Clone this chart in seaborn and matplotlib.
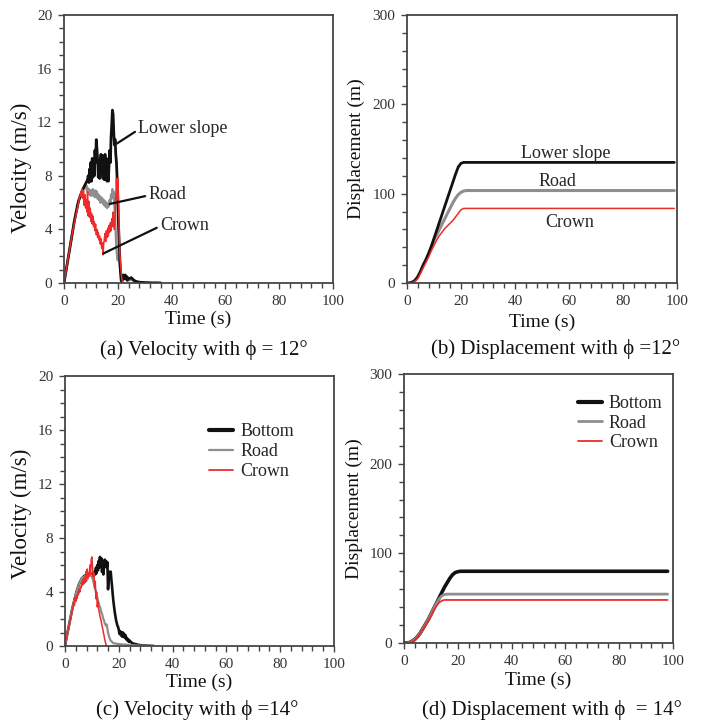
import numpy as np
import matplotlib
matplotlib.use("Agg")
import matplotlib.pyplot as plt
from matplotlib.ticker import MultipleLocator
import seaborn as sns

nan = np.nan

# ---------------- data ----------------
# Velocity, phi = 12 deg (time grid: 0..24 s every 0.25 s, then 25..36 s every 1 s)
t_a = np.r_[np.arange(0, 24.01, 0.25), np.arange(25, 37, 1)]
vel_a_lower = [0.0, 0.3, 0.6, 0.9, 1.2, 1.5, 1.8, 2.1, 2.4, 2.7,
               3.0, 3.3, 3.6, 3.9, 4.2, 4.5, 4.8, 5.0, 5.3, 5.5,
               5.8, 6.0, 6.2, 6.3, 6.5, 6.6, 6.7, 6.9, 7.0, 7.1,
               7.2, 7.3, 7.4, 7.5, 7.6, 7.7, 8.0, 7.5, 8.5, 7.6,
               9.0, 7.6, 9.3, 7.9, 9.2, 8.0, 9.9, 9.0, 10.7, 10.0,
               9.2, 7.9, 9.1, 7.8, 8.9, 9.6, 8.3, 9.5, 7.8, 9.0,
               7.7, 9.6, 8.2, 9.3, 7.6, 8.8, 7.6, 8.9, 9.9, 9.0,
               10.9, 11.8, 12.9, 12.6, 11.2, 10.3, 10.7, 9.6, 9.0, 7.8,
               6.0, 4.4, 3.0, 1.8, 0.8, 0.2, 0.1, 0.3, 0.6, 0.3,
               0.5, 0.6, 0.3, 0.5, 0.2, 0.4, 0.3,
               0.4, 0.2, 0.1, 0.05, 0.05, 0.02, 0.02, 0.0, 0.0, 0.0, 0.0, 0.0]
vel_a_road = [0.0, 0.3, 0.6, 0.9, 1.2, 1.5, 1.8, 2.1, 2.4, 2.7,
              3.0, 3.3, 3.6, 3.9, 4.2, 4.5, 4.7, 5.0, 5.2, 5.5,
              5.7, 5.9, 6.1, 6.3, 6.4, 6.5, 6.6, 6.8, 6.9, 7.0,
              7.1, 7.2, 7.1, 7.3, 6.9, 7.1, 6.7, 7.0, 6.6, 6.9,
              6.5, 6.9, 6.6, 7.0, 6.5, 6.8, 6.4, 6.9, 6.6, 6.8,
              6.3, 6.6, 6.2, 6.5, 6.0, 6.4, 6.1, 6.3, 5.9, 6.2,
              5.8, 6.1, 5.7, 6.0, 5.6, 5.9, 5.7, 5.8, 6.2, 5.9,
              6.6, 6.3, 7.0, 6.5, 6.8, 5.8, 4.8, 3.6, 2.6, 2.0,
              1.7, 2.1, 1.6, 1.2, 0.9, 0.7, 0.5, 0.6, 0.4, 0.5,
              0.3, 0.4, 0.3, 0.4, 0.2, 0.3, 0.2,
              0.25, 0.15, 0.1, 0.08, 0.05, 0.06, 0.04, 0.05, 0.03, 0.04, 0.02, 0.0]
vel_a_crown = [0.0, 0.3, 0.6, 0.9, 1.2, 1.5, 1.8, 2.1, 2.4, 2.7,
               3.0, 3.3, 3.6, 3.9, 4.1, 4.4, 4.6, 4.9, 5.1, 5.4,
               5.6, 5.9, 6.1, 6.4, 6.5, 6.8, 6.4, 7.0, 6.3, 6.9,
               5.8, 6.6, 5.6, 6.2, 5.3, 6.8, 5.0, 6.1, 4.9, 5.6,
               4.6, 5.2, 4.4, 5.0, 4.2, 4.6, 3.9, 4.4, 3.6, 4.0,
               3.4, 3.8, 3.2, 3.5, 2.9, 3.3, 2.6, 3.0, 2.1, 2.9,
               3.3, 3.7, 3.1, 3.9, 3.4, 4.1, 3.5, 4.3, 3.8, 4.5,
               3.9, 4.8, 4.2, 5.3, 4.6, 4.0, 5.0, 6.5, 7.8, 6.2,
               7.8, 6.5, 4.0, 2.2, 1.5, 0.8, 0.3, 0.1, 0.0, nan,
               nan, nan, nan, nan, nan, nan, nan,
               nan, nan, nan, nan, nan, nan, nan, nan, nan, nan, nan, nan]

# Displacement, phi = 12 deg
t_b = [0, 1, 2, 3, 4, 5, 6, 7, 8, 9, 10, 11, 12, 13, 14, 15, 16, 17, 18, 19, 20, 21, 22, 99]
disp_b_lower = [0, 0, 1, 3, 7, 13, 20, 26, 33, 41, 50, 59, 68, 77, 86, 95, 104, 113, 122, 130, 134, 135, 135, 135]
disp_b_road = [0, 0, 1, 3, 7, 13, 20, 26, 33, 40, 48, 54, 60, 66, 72, 78, 84, 90, 95, 99, 101.5, 103, 103.5, 103.5]
disp_b_crown = [0, 0, 0.5, 2, 5, 11, 17, 23, 29, 36, 42, 48, 53, 57, 61, 64, 67, 70, 74, 78, 82, 83.5, 83.5, 83.5]

# Velocity, phi = 14 deg (time grid: 0..24 s every 0.25 s, then 25..33 s every 1 s)
t_c = np.r_[np.arange(0, 24.01, 0.25), np.arange(25, 34, 1)]
vel_c_bottom = [0.0, 0.3, 0.55, 0.8, 1.05, 1.3, 1.55, 1.8, 2.05, 2.3,
                2.55, 2.8, 3.0, 3.2, 3.4, 3.6, 3.8, 4.0, 4.15, 4.3,
                4.45, 4.6, 4.7, 4.8, 4.9, 5.0, 5.05, 5.1, 5.15, 5.2,
                5.2, 5.25, 5.3, 5.25, 5.3, 5.2, 5.3, 5.2, 5.35, 5.25,
                5.3, 5.2, 5.4, 5.3, 5.5, 5.3, 5.8, 5.4, 6.0, 5.6,
                6.3, 5.8, 6.6, 6.0, 6.5, 5.5, 5.9, 5.3, 6.0, 6.4,
                5.9, 6.3, 5.8, 6.2, 4.2, 5.0, 5.5, 5.2, 5.5, 4.9,
                4.4, 3.8, 3.3, 2.9, 2.5, 2.2, 1.9, 1.7, 1.5, 1.4,
                1.2, 0.9, 1.1, 0.8, 1.0, 0.7, 1.0, 0.7, 0.9, 0.6,
                0.8, 0.5, 0.6, 0.4, 0.5, 0.3, 0.4,
                0.2, 0.15, 0.1, 0.06, 0.04, 0.03, 0.02, 0.01, 0.0]
vel_c_road = [0.0, 0.3, 0.55, 0.8, 1.05, 1.3, 1.55, 1.8, 2.05, 2.3,
              2.55, 2.8, 3.0, 3.2, 3.4, 3.6, 3.8, 4.0, 4.15, 4.3,
              4.45, 4.6, 4.7, 4.8, 4.9, 5.0, 5.05, 5.1, 5.1, 5.15,
              5.2, 5.15, 5.2, 5.3, 5.2, 5.3, 5.2, 5.3, 5.2, 5.25,
              5.1, 5.0, 4.8, 4.6, 4.4, 4.2, 4.0, 3.8, 3.6, 3.4,
              3.2, 3.0, 2.9, 2.7, 2.5, 2.4, 2.2, 2.0, 1.9, 1.7,
              1.6, 1.5, 1.6, 1.3, 1.0, 0.8, 0.6, 0.5, 0.4, 0.35,
              0.3, 0.25, 0.2, 0.2, 0.2, 0.18, 0.18, 0.16, 0.16, 0.15,
              0.15, 0.14, 0.14, 0.13, 0.13, 0.12, 0.12, 0.11, 0.11, 0.1,
              0.1, 0.1, 0.09, 0.09, 0.08, 0.08, 0.08,
              0.06, 0.05, 0.04, 0.03, 0.02, 0.01, 0.01, 0.0, 0.0]
vel_c_crown = [0.0, 0.35, 0.6, 0.85, 1.1, 1.3, 1.5, 1.8, 2.0, 2.2,
               2.5, 2.7, 2.9, 3.2, 3.0, 3.6, 3.3, 3.7, 3.5, 3.9,
               3.8, 4.2, 4.0, 4.4, 4.3, 4.7, 4.5, 4.9, 4.6, 5.1,
               4.7, 5.5, 4.8, 5.7, 5.0, 5.4, 5.2, 6.0, 5.3, 6.4,
               6.6, 5.8, 5.1, 5.4, 4.3, 4.8, 3.5, 4.0, 2.9, 3.3,
               2.7, 2.5, 2.2, 2.0, 1.8, 1.5, 1.3, 1.0, 0.8, 0.5,
               0.3, 0.1, 0.0] + [nan] * 43

# Displacement, phi = 14 deg
t_d = [0, 1, 2, 3, 4, 5, 6, 7, 8, 9, 10, 11, 12, 13, 14, 15, 16, 17, 18, 19, 20, 21, 98]
disp_d_bottom = [0, 0, 0.5, 2, 4, 7, 11, 16, 21, 26, 32, 38, 44, 50, 56, 62, 67, 72, 76, 78.5, 79.5, 80, 80]
disp_d_road = [0, 0, 0.5, 2, 4, 7, 11, 16, 21, 26, 32, 38, 44, 49, 52.5, 54, 54.5, 54.5, 54.5, 54.5, 54.5, 54.5, 54.5]
disp_d_crown = [0, 0, 0.3, 1.5, 3.5, 6.5, 10.5, 15, 20, 25, 30, 36, 41, 45, 47, 48, 48, 48, 48, 48, 48, 48, 48]

labels_12 = ["Lower slope", "Road", "Crown"]
labels_14 = ["Bottom", "Road", "Crown"]
captions = ["(a) Velocity with ϕ = 12°", "(b) Displacement with ϕ =12°",
            "(c) Velocity with ϕ =14°", "(d) Displacement with ϕ  = 14°"]

# ---------------- style ----------------
sns.set_theme(style="ticks")
plt.rcParams['font.family'] = ['Liberation Serif', 'DejaVu Serif']
plt.rcParams['axes.unicode_minus'] = False

BLACK = "#111111"
GREY = "#8e8e8e"
RED = "#ee2b2b"
SPINE = "#454545"

W, H = 705, 724
fig = plt.figure(figsize=(W / 100, H / 100), dpi=100)


def box(l, t, r, b):
    return [l / W, 1 - b / H, (r - l) / W, (b - t) / H]


ax_a = fig.add_axes(box(64, 15, 333, 283))
ax_b = fig.add_axes(box(407, 15, 677, 283))
ax_c = fig.add_axes(box(65, 376, 334, 646))
ax_d = fig.add_axes(box(404, 374, 673, 643))


def style(ax, ymax, ymaj, ymin, ylabel, ylab_x, ylab_y, ylab_fs, xlab_y):
    ax.set_xlim(0, 100)
    ax.set_ylim(0, ymax)
    ax.xaxis.set_major_locator(MultipleLocator(20))
    ax.xaxis.set_minor_locator(MultipleLocator(4))
    ax.yaxis.set_major_locator(MultipleLocator(ymaj))
    ax.yaxis.set_minor_locator(MultipleLocator(ymin))
    ax.tick_params(which='both', direction='out', color=SPINE, width=1.0)
    ax.tick_params(which='major', length=4.5, labelsize=11, labelcolor='#333333', pad=4)
    ax.tick_params(which='minor', length=3.5)
    for s in ax.spines.values():
        s.set_visible(True)
        s.set_color(SPINE)
        s.set_linewidth(1.3)
    ax.set_xlabel("Time (s)", fontsize=14, color='#111111')
    ax.xaxis.set_label_coords(0.5, xlab_y)
    ax.set_ylabel(ylabel, fontsize=ylab_fs, color='#111111')
    ax.yaxis.set_label_coords(ylab_x, ylab_y)
    ax.set_facecolor('white')


# (a)
sns.lineplot(x=t_a, y=vel_a_road, ax=ax_a, color=GREY, lw=1.7, estimator=None, sort=False)
sns.lineplot(x=t_a, y=vel_a_lower, ax=ax_a, color=BLACK, lw=2.0, estimator=None, sort=False)
sns.lineplot(x=t_a, y=vel_a_crown, ax=ax_a, color=RED, lw=1.1, estimator=None, sort=False)
style(ax_a, 20, 4, 1, "Velocity (m/s)", -0.118, 0.43, 16.5, -0.104)
ann = dict(arrowstyle='-', color=BLACK, lw=1.6, shrinkA=0, shrinkB=0, relpos=(0, 0.45))
ax_a.annotate(labels_12[0], xy=(19.6, 10.4), xytext=(27.6, 11.5), fontsize=13,
              ha='left', va='center', arrowprops=ann)
ax_a.annotate(labels_12[1], xy=(17.0, 5.9), xytext=(31.4, 6.6), fontsize=13,
              ha='left', va='center', arrowprops=ann)
ax_a.annotate(labels_12[2], xy=(14.6, 2.2), xytext=(35.7, 4.3), fontsize=13,
              ha='left', va='center', arrowprops=ann)

# (b)
sns.lineplot(x=t_b, y=disp_b_road, ax=ax_b, color=GREY, lw=2.2, estimator=None, sort=False)
sns.lineplot(x=t_b, y=disp_b_lower, ax=ax_b, color=BLACK, lw=2.0, estimator=None, sort=False)
sns.lineplot(x=t_b, y=disp_b_crown, ax=ax_b, color=RED, lw=1.1, estimator=None, sort=False)
style(ax_b, 300, 100, 20, "Displacement (m)", -0.156, 0.5, 14, -0.116)
ax_b.text(58.9, 145, labels_12[0], fontsize=13, ha='center', va='center')
ax_b.text(55.7, 114, labels_12[1], fontsize=13, ha='center', va='center')
ax_b.text(60.4, 67.5, labels_12[2], fontsize=13, ha='center', va='center')

# (c)
sns.lineplot(x=t_c, y=vel_c_bottom, ax=ax_c, color=BLACK, lw=1.9, estimator=None, sort=False,
             label=labels_14[0])
sns.lineplot(x=t_c, y=vel_c_road, ax=ax_c, color=GREY, lw=1.6, estimator=None, sort=False,
             label=labels_14[1])
sns.lineplot(x=t_c, y=vel_c_crown, ax=ax_c, color=RED, lw=1.1, estimator=None, sort=False,
             label=labels_14[2])
style(ax_c, 20, 4, 1, "Velocity (m/s)", -0.121, 0.49, 16.5, -0.104)
leg_c = ax_c.legend(loc='upper left', bbox_to_anchor=(0.537, 0.826), frameon=False,
                    fontsize=13, handlelength=1.3, handletextpad=0.4, labelspacing=0.18,
                    borderpad=0, borderaxespad=0)
for h, lw_ in zip(leg_c.get_lines(), [3.0, 1.6, 1.3]):
    h.set_linewidth(lw_)

# (d)
sns.lineplot(x=t_d, y=disp_d_bottom, ax=ax_d, color=BLACK, lw=2.6, estimator=None, sort=False,
             label=labels_14[0])
sns.lineplot(x=t_d, y=disp_d_road, ax=ax_d, color=GREY, lw=2.0, estimator=None, sort=False,
             label=labels_14[1])
sns.lineplot(x=t_d, y=disp_d_crown, ax=ax_d, color=RED, lw=1.3, estimator=None, sort=False,
             label=labels_14[2])
style(ax_d, 300, 100, 20, "Displacement (m)", -0.152, 0.5, 14, -0.108)
leg_d = ax_d.legend(loc='upper left', bbox_to_anchor=(0.648, 0.922), frameon=False,
                    fontsize=13, handlelength=1.3, handletextpad=0.4, labelspacing=0.14,
                    borderpad=0, borderaxespad=0)
for h, lw_ in zip(leg_d.get_lines(), [3.0, 2.0, 1.3]):
    h.set_linewidth(lw_)

# captions
for (x, y), cap in zip([(204, 350), (556, 349), (197, 710), (552, 710)], captions):
    fig.text(x / W, 1 - y / H, cap, fontsize=15, ha='center', va='center', color='#111111')

fig.savefig("out.png", dpi=100, facecolor='white')
